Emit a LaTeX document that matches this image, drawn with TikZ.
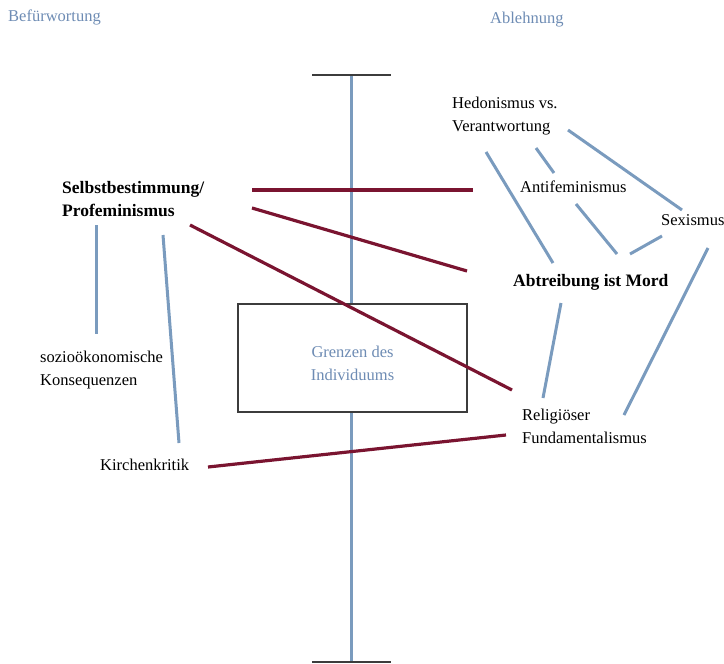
\documentclass[tikz,border=0pt]{standalone}
\usepackage{fontspec}
\setmainfont{Liberation Serif}
\usepackage{xcolor}
\usepackage{tikz}
\usetikzlibrary{positioning}
\definecolor{axisBlue}{RGB}{122, 155, 190}
\definecolor{headBlue}{RGB}{110, 140, 180}
\definecolor{conflictRed}{RGB}{122, 20, 48}
\definecolor{frameGray}{RGB}{60, 60, 60}

\tikzset{
    txt/.style={anchor=west, inner sep=0pt, align=left,
        font=\fontsize{16.5}{23}\selectfont},
    boldtxt/.style={txt, font=\fontsize{17.5}{23}\selectfont\bfseries},
    head/.style={txt, text=headBlue},
    link/.style={axisBlue, line width=3pt},
    conflict/.style={conflictRed, line width=3.2pt},
    bar/.style={frameGray, line width=1.2pt}
}

\begin{document}
\begin{tikzpicture}[x=1pt, y=-1pt]
        \useasboundingbox (0,0) rectangle (724,664);

        % Axis
        \coordinate (axtop) at (351.5,75);
        \coordinate (axbot) at (351.5,662);
        \draw[link] (axtop) -- (axbot);
        \draw[bar] ([xshift=-39.5pt]axtop) -- ([xshift=39.5pt]axtop);
        \draw[bar] ([xshift=-39.5pt]axbot) -- ([xshift=39.5pt]axbot);

        \node[draw=frameGray, line width=1.2pt, fill=white, minimum width=229pt,
            minimum height=108pt] (grenzen) at (352.5,358) {};
        \node[head, anchor=center, align=center] (grenzentxt)
            at ([yshift=-5.5pt]grenzen.center) {Grenzen des\\Individuums};

        % Headings
        \node[head] (befuer) at (8,17) {Befürwortung};
        \node[head] (ablehn) at (490,20) {Ablehnung};

        % Positions
        \node[boldtxt] (selbst) at (62,199.5) {Selbstbestimmung/\\Profeminismus};
        \node[txt] (sozio) at (40,370.5) {sozioökonomische\\Konsequenzen};
        \node[txt] (kirche) at (100,465) {Kirchenkritik};
        \node[txt] (hedon) at (452,116.5) {Hedonismus vs.\\Verantwortung};
        \node[txt] (antifem) at (520,187) {Antifeminismus};
        \node[txt] (sexism) at (661,220) {Sexismus};
        \node[boldtxt] (mord) at (513,282) {Abtreibung ist Mord};
        \node[txt] (religio) at (522,426) {Religiöser\\Fundamentalismus};

        % Line ends
        \coordinate (selbst-a) at (252,190);
        \coordinate (selbst-b) at (252,208);
        \coordinate (selbst-c) at (190,225);
        \coordinate (selbst-d) at (96,225);
        \coordinate (selbst-e) at (163,235);
        \coordinate (antifem-a) at (473,190);
        \coordinate (antifem-b) at (554,173);
        \coordinate (antifem-c) at (576,204);
        \coordinate (mord-a) at (467,271);
        \coordinate (mord-b) at (553,263);
        \coordinate (mord-c) at (617,254);
        \coordinate (mord-d) at (630,254);
        \coordinate (mord-e) at (561,303);
        \coordinate (religio-a) at (512,390);
        \coordinate (religio-b) at (506,435);
        \coordinate (religio-c) at (543,398);
        \coordinate (religio-d) at (624,415);
        \coordinate (kirche-a) at (208,467);
        \coordinate (kirche-b) at (179,443);
        \coordinate (sozio-a) at (96,334);
        \coordinate (hedon-a) at (486,152);
        \coordinate (hedon-b) at (536,148);
        \coordinate (hedon-c) at (568,130);
        \coordinate (sexism-a) at (682,210);
        \coordinate (sexism-b) at (662,236);
        \coordinate (sexism-c) at (708,248);

        % Conflicts
        \draw[conflict] (selbst-a) -- (antifem-a);
        \draw[conflict] (selbst-b) -- (mord-a);
        \draw[conflict] (selbst-c) -- (religio-a);
        \draw[conflict] (kirche-a) -- (religio-b);

        % Links
        \draw[link] (selbst-d) -- (sozio-a);
        \draw[link] (selbst-e) -- (kirche-b);
        \draw[link] (hedon-a) -- (mord-b);
        \draw[link] (hedon-b) -- (antifem-b);
        \draw[link] (hedon-c) -- (sexism-a);
        \draw[link] (antifem-c) -- (mord-c);
        \draw[link] (sexism-b) -- (mord-d);
        \draw[link] (mord-e) -- (religio-c);
        \draw[link] (sexism-c) -- (religio-d);
    \end{tikzpicture}
\end{document}
